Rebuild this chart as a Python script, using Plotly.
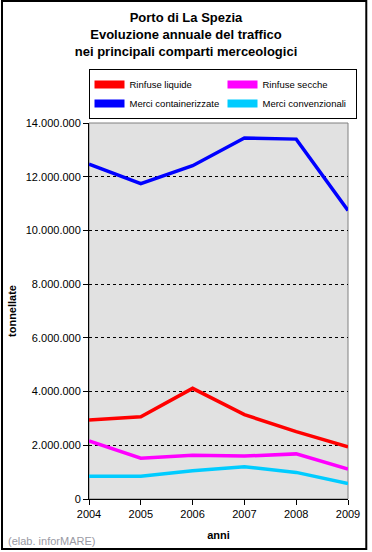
import plotly.graph_objects as go

anni = [2004, 2005, 2006, 2007, 2008, 2009]
rinfuse_liquide = [2940000, 3060000, 4120000, 3140000, 2510000, 1940000]
rinfuse_secche = [2160000, 1520000, 1630000, 1600000, 1680000, 1110000]
merci_container = [12470000, 11740000, 12410000, 13440000, 13400000, 10740000]
merci_convenz = [850000, 850000, 1050000, 1200000, 990000, 580000]

series = [
    ("Rinfuse liquide", rinfuse_liquide, "#FF0000"),
    ("Rinfuse secche", rinfuse_secche, "#FF00FF"),
    ("Merci containerizzate", merci_container, "#0000FF"),
    ("Merci convenzionali", merci_convenz, "#00CCFF"),
]

W, H = 372, 552
L, R, T, B = 89, 21, 123, 53
pw, ph = W - L - R, H - T - B

def px_x(x):
    return (x - L) / pw

def px_y(y):
    return (H - B - y) / ph

FONT = "Arial, Liberation Sans, sans-serif"

fig = go.Figure()
for name, vals, col in series:
    fig.add_trace(go.Scatter(x=anni, y=vals, mode="lines", name=name,
                             line=dict(color=col, width=3.5), showlegend=False))
# legend entries (rectangular swatches)
for name, vals, col in series:
    fig.add_trace(go.Scatter(x=[None], y=[None], mode="lines", name=name,
                             line=dict(color=col, width=8), showlegend=True))

fig.update_layout(
    width=W, height=H,
    margin=dict(l=L, r=R, t=T, b=B),
    paper_bgcolor="white",
    plot_bgcolor="#E1E1E1",
    separators=",.",
    font=dict(family=FONT, size=11, color="black"),
    title=dict(text="<b>Porto di La Spezia<br>Evoluzione annuale del traffico<br>nei principali comparti merceologici</b>",
               x=0.5, xanchor="center", y=1 - 22 / H, yanchor="top",
               font=dict(size=13, family=FONT, color="black")),
    legend=dict(orientation="h", x=px_x(88.5), xanchor="left", y=px_y(69), yanchor="top",
                entrywidth=88, entrywidthmode="pixels",
                bordercolor="black", borderwidth=1, bgcolor="white",
                font=dict(size=9.5, family=FONT), traceorder="normal",
                itemwidth=30),
    xaxis=dict(range=[2004, 2009], tickvals=anni, showgrid=False, zeroline=False,
               showline=True, linecolor="black", linewidth=1,
               ticks="outside", ticklen=5, tickcolor="black",
               tickfont=dict(size=11),
               title=dict(text="<b>anni</b>", font=dict(size=11), standoff=12)),
    yaxis=dict(range=[0, 14000000], dtick=2000000, tickformat=",d",
               showgrid=True, gridcolor="black", gridwidth=1, griddash="3px,3px",
               zeroline=False, showline=True, linecolor="black", linewidth=1,
               ticks="outside", ticklen=5, tickcolor="black",
               tickfont=dict(size=11),
               title=dict(text="<b>tonnellate</b>", font=dict(size=11), standoff=6)),
    shapes=[
        dict(type="rect", xref="paper", yref="paper", x0=0, x1=1, y0=0, y1=1,
             line=dict(color="#808080", width=1), layer="below"),
        dict(type="rect", xref="paper", yref="paper",
             x0=px_x(1), x1=px_x(369.5), y0=px_y(549), y1=px_y(1),
             line=dict(color="black", width=2), layer="above"),
    ],
    annotations=[
        dict(text="(elab. inforMARE)", xref="paper", yref="paper",
             x=px_x(5), y=px_y(541), xanchor="left", yanchor="middle",
             showarrow=False, font=dict(size=11, color="#9A9AA4", family=FONT)),
    ],
)

fig.write_html("out.html", config={"displayModeBar": False},
               post_script="document.body.style.margin='0';document.body.style.overflow='hidden';")
